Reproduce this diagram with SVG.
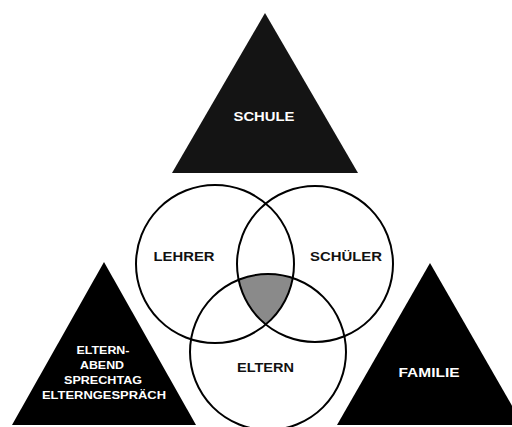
<svg xmlns="http://www.w3.org/2000/svg" width="512" height="427" viewBox="0 0 512 427">
<style>
.tri{fill:#000}
.circ{fill:none;stroke:#000;stroke-width:2}
.lbl{font-family:"Liberation Sans",Arial,sans-serif;font-weight:bold;text-anchor:middle}
.w{fill:#fff}
.k{fill:#111}
.big{font-size:13.5px}
.sm{font-size:11.5px}
</style>
<rect width="512" height="427" fill="#fff"/>
<g id="schule">
<polygon class="tri" style="fill:#141414" points="265,13 172,173 358,173"/>
<text class="lbl w big" x="264" y="121" textLength="61" lengthAdjust="spacingAndGlyphs">SCHULE</text>
</g>
<g id="eltern-abend">
<polygon class="tri" points="104,262 12,425 196,425"/>
<text class="lbl w sm" x="103" y="354" textLength="53" lengthAdjust="spacingAndGlyphs">ELTERN-</text>
<text class="lbl w sm" x="102" y="369" textLength="44" lengthAdjust="spacingAndGlyphs">ABEND</text>
<text class="lbl w sm" x="103" y="384" textLength="78" lengthAdjust="spacingAndGlyphs">SPRECHTAG</text>
<text class="lbl w sm" x="104" y="399" textLength="124" lengthAdjust="spacingAndGlyphs">ELTERNGESPRÄCH</text>
</g>
<g id="familie">
<polygon class="tri" points="430,263 337,425 523,425"/>
<text class="lbl w big" x="429" y="377" textLength="61" lengthAdjust="spacingAndGlyphs">FAMILIE</text>
</g>
<g id="schnittmenge">
<path d="M238.6,279.8 A78,78 0 0 1 292.7,278 A79,79 0 0 1 265.8,324.5 A78,78 0 0 1 238.6,279.8 Z" fill="#8a8a8a"/>
</g>
<g id="lehrer">
<circle class="circ" cx="215" cy="264" r="79"/>
<text class="lbl k big" x="184" y="261" textLength="61" lengthAdjust="spacingAndGlyphs">LEHRER</text>
</g>
<g id="schueler">
<circle class="circ" cx="315" cy="264" r="78"/>
<text class="lbl k big" x="346" y="261" textLength="72" lengthAdjust="spacingAndGlyphs">SCHÜLER</text>
</g>
<g id="eltern">
<circle class="circ" cx="268" cy="352" r="78"/>
<text class="lbl k big" x="265.5" y="372" textLength="57" lengthAdjust="spacingAndGlyphs">ELTERN</text>
</g>
<g id="connectors"></g>
</svg>
